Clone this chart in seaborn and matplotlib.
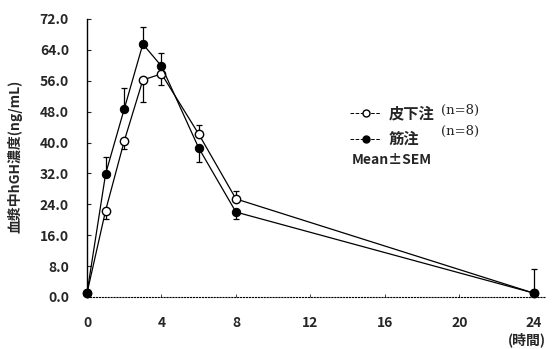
import numpy as np
import pandas as pd
import seaborn as sns
import matplotlib
matplotlib.use('Agg')
import matplotlib.pyplot as plt
from matplotlib.lines import Line2D

# data
hours = [0, 1, 2, 3, 4, 6, 8, 24]
sc_mean = [1.0, 22.4, 40.4, 56.2, 57.8, 42.2, 25.4, 1.0]   # 皮下注
im_mean = [1.0, 31.9, 48.7, 65.5, 59.8, 38.6, 22.0, 1.0]   # 筋注
sc_err_low = [0, 2.1, 2.1, 5.7, 2.8, 0, 0, 0]
sc_err_up = [0, 0, 0, 0, 0, 2.3, 2.1, 0]
im_err_low = [0, 0, 0, 0, 0, 3.6, 1.8, 0]
im_err_up = [0, 4.4, 5.4, 4.5, 3.4, 0, 0, 6.2]
yticks = np.arange(0, 80, 8)
xticks = np.arange(0, 28, 4)

sns.set_style('white')
plt.rcParams['font.family'] = ['Noto Sans CJK JP', 'DejaVu Sans']

df = pd.DataFrame({'時間': hours * 2,
                   '濃度': sc_mean + im_mean,
                   '群': ['皮下注'] * len(hours) + ['筋注'] * len(hours)})

fig = plt.figure(figsize=(5.6, 3.49), dpi=100)
ax = fig.add_axes([87 / 560, 52 / 349, 458 / 560, 278 / 349])

# error bars first, one-sided like the original
ax.errorbar(hours, sc_mean, yerr=[sc_err_low, sc_err_up], fmt='none',
            ecolor='black', elinewidth=0.9, capsize=2.5, capthick=0.9, clip_on=False)
ax.errorbar(hours, im_mean, yerr=[im_err_low, im_err_up], fmt='none',
            ecolor='black', elinewidth=0.9, capsize=2.5, capthick=0.9, clip_on=False)

sns.lineplot(data=df[df['群'] == '皮下注'], x='時間', y='濃度', ax=ax, color='black',
             linewidth=0.9, marker='o', markersize=6, markerfacecolor='white',
             markeredgecolor='black', markeredgewidth=1.0, clip_on=False, zorder=3)
sns.lineplot(data=df[df['群'] == '筋注'], x='時間', y='濃度', ax=ax, color='black',
             linewidth=0.9, marker='o', markersize=6, markerfacecolor='black',
             markeredgecolor='black', clip_on=False, zorder=4)

ax.set_xlim(0, 24.6)
ax.set_ylim(0, 72)
ax.set_xticks(xticks)
ax.set_yticks(yticks)
ax.set_yticklabels([f'{v:.1f}' for v in yticks], fontsize=10, fontweight='bold')
ax.set_xticklabels([str(v) for v in xticks], fontsize=10, fontweight='bold')
ax.tick_params(axis='y', direction='in', length=3, width=0.8, pad=13, left=True)
ax.tick_params(axis='x', direction='in', length=2, width=0.6, pad=14, bottom=True)
ax.set_xlabel('')
ax.set_ylabel('血漿中hGH濃度(ng/mL)', fontsize=10, fontweight='bold')
ax.yaxis.set_label_coords(-0.14, 0.507)

for s in ['top', 'right']:
    ax.spines[s].set_visible(False)
ax.spines['left'].set_linewidth(1.0)
ax.spines['left'].set_color('black')
ax.spines['bottom'].set_linestyle(':')
ax.spines['bottom'].set_linewidth(0.8)
ax.spines['bottom'].set_color('black')

ax.text(23.6, -11.2, '(時間)', fontsize=10, fontweight='bold', ha='center', va='center')

handles = [Line2D([], [], color='black', linestyle='--', linewidth=0.7, marker='o',
                  markersize=5, markerfacecolor='white', markeredgecolor='black'),
           Line2D([], [], color='black', linestyle='--', linewidth=0.7, marker='o',
                  markersize=5, markerfacecolor='black', markeredgecolor='black')]
leg = ax.legend(handles, ['皮下注', '筋注'], loc='upper left', bbox_to_anchor=(0.575, 0.69),
                frameon=False, handlelength=2.0, handletextpad=0.5, labelspacing=0.65,
                borderaxespad=0, borderpad=0, prop={'size': 11, 'weight': 'bold'})
ax.text(19.0, 48.2, '(n=8)', fontsize=9.5, family='DejaVu Serif', va='center')
ax.text(19.0, 43.0, '(n=8)', fontsize=9.5, family='DejaVu Serif', va='center')
ax.text(14.2, 35.5, 'Mean±SEM', fontsize=10, fontweight='bold', va='center')

fig.savefig('out.png', dpi=100)
